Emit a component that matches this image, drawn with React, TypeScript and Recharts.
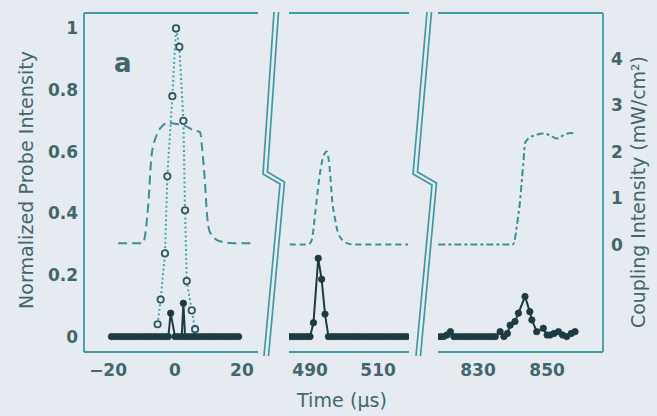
import { LineChart, Line, XAxis, YAxis, ReferenceLine } from 'recharts'

// time axis tick positions for the three broken segments (µs)
const ticksA = [-20, 0, 20]
const ticksB = [490, 510]
const ticksC = [830, 850]
const probeTicks = [0, 0.2, 0.4, 0.6, 0.8, 1]
const couplingTicks = [0, 1, 2, 3, 4]

// coupling field (mW/cm^2), dashed
const coupleATime = [-17, -9.6, -8.0, -7.0, -5.5, -3.5, -2.5, 0, 2.4, 5.5, 7.5, 8.0, 9.0, 9.5, 10.4, 13.4, 17.3, 22.9]
const coupleAVal = [0.03, 0.03, 0.85, 1.92, 2.35, 2.57, 2.62, 2.6, 2.57, 2.46, 2.42, 2.14, 1.28, 0.7, 0.27, 0.07, 0.03, 0.03]
const coupleBTime = [484, 489.5, 490.5, 491.5, 492.9, 493.9, 494.9, 495.9, 496.4, 497.4, 498.3, 500.8, 503, 518.8]
const coupleBVal = [0, 0, 0.1, 0.67, 1.53, 1.89, 2.0, 1.53, 1.03, 0.53, 0.24, 0.03, 0, 0]
const coupleCTime = [818.5, 840.1, 840.7, 841.2, 842.2, 842.7, 843.2, 843.6, 844.6, 846.5, 848.9, 850.9, 852.8, 854.7, 856.7, 858.1]
const coupleCVal = [0, 0, 0.13, 0.38, 0.96, 1.39, 1.82, 2.18, 2.28, 2.35, 2.39, 2.35, 2.28, 2.35, 2.4, 2.39]

// input probe pulse without atoms (open circles)
const refTime = [-5.2, -4.3, -3.0, -2.3, -0.8, 0.3, 1.3, 2.5, 3.0, 3.5, 5.0, 6.0]
const refVal = [0.04, 0.12, 0.27, 0.52, 0.78, 1.0, 0.94, 0.7, 0.41, 0.18, 0.085, 0.024]

// transmitted probe (filled dots)
const outATime = [-19, -18, -17, -16, -15, -14, -13, -12, -11, -10, -9, -8, -7, -6, -5, -4, -3, -2, -1.3, 0, 1, 2, 2.5, 3, 4, 5, 6, 7, 8, 9, 10, 11, 12, 13, 14, 15, 16, 17, 18, 19]
const outAVal = [0, 0, 0, 0, 0, 0, 0, 0, 0, 0, 0, 0, 0, 0, 0, 0, 0, 0, 0.076, 0, 0, 0, 0.108, 0, 0, 0, 0, 0, 0, 0, 0, 0, 0, 0, 0, 0, 0, 0, 0, 0]
const outBTime = [484, 485, 486, 487, 488, 489, 490, 491, 492.4, 493.4, 494.4, 495.4, 496.4, 497.4, 498.4, 499.4, 500.4, 501.4, 502.4, 503.4, 504.4, 505.4, 506.4, 507.4, 508.4, 509.4, 510.4, 511.4, 512.4, 513.4, 514.4, 515.4, 516.4, 517.4, 518.4]
const outBVal = [0, 0, 0, 0, 0, 0, 0, 0.045, 0.254, 0.186, 0.073, 0, 0, 0, 0, 0, 0, 0, 0, 0, 0, 0, 0, 0, 0, 0, 0, 0, 0, 0, 0, 0, 0, 0, 0]
const outCTime = [819, 820, 821, 822, 823, 824, 825, 826, 827, 828, 829, 830, 831, 832, 833, 834, 835, 836.4, 837.5, 838.5, 839.3, 840.7, 841.7, 843.6, 845, 845.6, 847, 848.9, 850, 850.9, 852, 853.3, 854.5, 855.7, 857, 858.1]
const outCVal = [0, 0, 0.005, 0.016, 0, 0, 0, 0, 0, 0, 0, 0, 0, 0, 0, 0, 0, 0.016, 0, 0.01, 0.037, 0.049, 0.076, 0.13, 0.081, 0.054, 0.016, 0.027, 0.005, 0.005, 0.01, 0.016, 0.005, 0, 0.01, 0.016]

const zip = (t: number[], v: number[]) => t.map((x, i) => ({ t: x, v: v[i] }))

const BG = '#e6ebf1'
const FRAME = '#3f9aa2'
const TEXT = '#41676c'
const DASH = '#3a8f98'
const DOTTED = '#43a6ae'
const DARK = '#1d3b41'
const FONT = 'DejaVu Sans'

const PROBE_DOMAIN: [number, number] = [-0.05, 1.05]
const COUPLING_DOMAIN: [number, number] = [-2.31, 4.98]

const tickStyle = { fontSize: 17, fill: TEXT, fontFamily: FONT, fontWeight: 'bold' as const }
const axisLine = { stroke: FRAME, strokeWidth: 1.8 }
const fmtTime = (v: number) => (v < 0 ? `\u2212${Math.abs(v)}` : `${v}`)

function timeAxis(domain: [number, number], ticks: number[]) {
  return (
    <XAxis
      dataKey="t"
      type="number"
      domain={domain}
      ticks={ticks}
      allowDataOverflow
      height={64}
      tickLine={false}
      tickSize={0}
      tickMargin={12}
      axisLine={axisLine}
      tick={tickStyle}
      tickFormatter={fmtTime}
    />
  )
}

// scales that are used but not drawn in a segment
const hiddenProbeAxis = (
  <YAxis yAxisId="p" hide width={0} type="number" domain={PROBE_DOMAIN} allowDataOverflow />
)
const hiddenCouplingAxis = (
  <YAxis yAxisId="c" hide width={0} orientation="right" type="number" domain={COUPLING_DOMAIN} allowDataOverflow />
)

function couplingLine(data: { t: number; v: number }[], dash: string) {
  return (
    <Line
      yAxisId="c"
      data={data}
      dataKey="v"
      type="monotone"
      stroke={DASH}
      strokeWidth={2}
      strokeDasharray={dash}
      dot={false}
      isAnimationActive={false}
    />
  )
}

function outputLine(data: { t: number; v: number }[]) {
  return (
    <Line
      yAxisId="p"
      data={data}
      dataKey="v"
      type="linear"
      stroke={DARK}
      strokeWidth={2}
      dot={{ r: 3.2, fill: DARK, stroke: DARK, strokeWidth: 0.8 }}
      isAnimationActive={false}
    />
  )
}

export default function App() {
  return (
    <div style={{ position: 'absolute', left: 0, top: 0, width: 657, height: 416, background: BG, overflow: 'hidden' }}>
      {/* segment around t = 0 */}
      <div style={{ position: 'absolute', left: 0, top: 0 }}>
        <LineChart width={258} height={416} margin={{ top: 13, right: 0, bottom: 0, left: 0 }}>
          {timeAxis([-27.2, 24.8], ticksA)}
          <YAxis
            yAxisId="p"
            type="number"
            domain={PROBE_DOMAIN}
            ticks={probeTicks}
            allowDataOverflow
            width={84}
            tickLine={false}
            tickSize={0}
            tickMargin={6}
            axisLine={axisLine}
            tick={tickStyle}
          />
          {hiddenCouplingAxis}
          <ReferenceLine yAxisId="p" y={1.05} stroke={FRAME} strokeWidth={1.8} />
          {couplingLine(zip(coupleATime, coupleAVal), '9 5')}
          <Line
            yAxisId="p"
            data={zip(refTime, refVal)}
            dataKey="v"
            type="linear"
            stroke={DOTTED}
            strokeWidth={2}
            strokeDasharray="2 2.5"
            dot={{ r: 3.2, fill: BG, stroke: '#2c5a60', strokeWidth: 1.8, strokeDasharray: 'none' }}
            isAnimationActive={false}
          />
          {outputLine(zip(outATime, outAVal))}
        </LineChart>
      </div>

      {/* segment around 500 us */}
      <div style={{ position: 'absolute', left: 289, top: 0 }}>
        <LineChart width={120} height={416} margin={{ top: 13, right: 0, bottom: 0, left: 0 }}>
          {timeAxis([483.8, 519.1], ticksB)}
          {hiddenProbeAxis}
          {hiddenCouplingAxis}
          <ReferenceLine yAxisId="p" y={1.05} stroke={FRAME} strokeWidth={1.8} />
          {couplingLine(zip(coupleBTime, coupleBVal), '6 4')}
          {outputLine(zip(outBTime, outBVal))}
        </LineChart>
      </div>

      {/* segment around 840 us, with coupling scale */}
      <div style={{ position: 'absolute', left: 438, top: 0 }}>
        <LineChart width={219} height={416} margin={{ top: 13, right: 0, bottom: 0, left: 0 }}>
          {timeAxis([818.4, 866.2], ticksC)}
          {hiddenProbeAxis}
          <YAxis
            yAxisId="c"
            orientation="right"
            type="number"
            domain={COUPLING_DOMAIN}
            ticks={couplingTicks}
            allowDataOverflow
            width={54}
            tickLine={false}
            tickSize={0}
            tickMargin={8}
            axisLine={axisLine}
            tick={tickStyle}
          />
          <ReferenceLine yAxisId="p" y={1.05} stroke={FRAME} strokeWidth={1.8} />
          {couplingLine(zip(coupleCTime, coupleCVal), '7 3 3 3')}
          {outputLine(zip(outCTime, outCVal))}
        </LineChart>
      </div>

      {/* axis breaks, axis titles and panel letter */}
      <svg width={657} height={416} style={{ position: 'absolute', left: 0, top: 0, pointerEvents: 'none' }}>
        <g fill="none" stroke={FRAME} strokeWidth={1.7}>
          <polyline points="274,12 263,174 280,184 264,356" />
          <polyline points="278.5,12 267.5,172 284.5,182 268.5,356" />
          <polyline points="427,12 413,174 432,185 416,356" />
          <polyline points="431.5,12 417.5,172 436.5,183 420.5,356" />
        </g>
        <g fontFamily={FONT} fill={TEXT}>
          <text x={114} y={72} fontWeight="bold" fontSize={26}>
            a
          </text>
          <text x={342} y={407} textAnchor="middle" fontSize={19} textLength={90} lengthAdjust="spacing">
            Time (μs)
          </text>
          <text
            transform="translate(33,180) rotate(-90)"
            textAnchor="middle"
            fontSize={19}
            textLength={258}
            lengthAdjust="spacing"
          >
            Normalized Probe Intensity
          </text>
          <text
            transform="translate(645,192) rotate(-90)"
            textAnchor="middle"
            fontSize={19}
            textLength={272}
            lengthAdjust="spacing"
          >
            Coupling Intensity (mW/cm²)
          </text>
        </g>
      </svg>
    </div>
  )
}
